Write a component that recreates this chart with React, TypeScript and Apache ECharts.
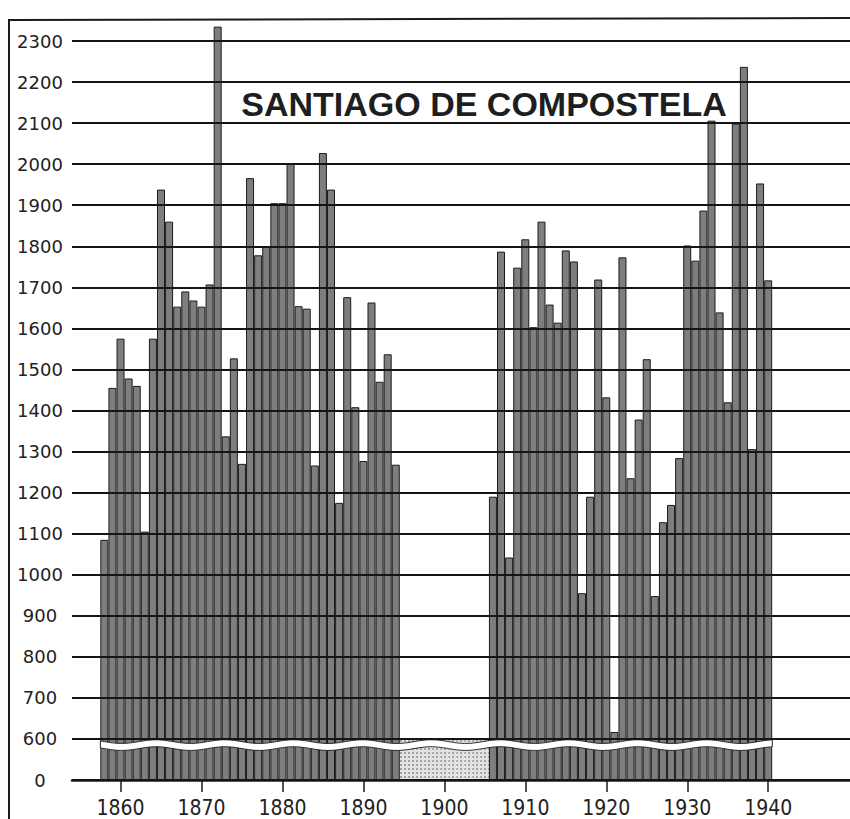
import React, { useEffect, useRef } from "react";
import * as echarts from "echarts";

// Annual rainfall, Santiago de Compostela (mm); null = no record
const years = [
  1858, 1859, 1860, 1861, 1862, 1863, 1864, 1865, 1866, 1867,
  1868, 1869, 1870, 1871, 1872, 1873, 1874, 1875, 1876, 1877,
  1878, 1879, 1880, 1881, 1882, 1883, 1884, 1885, 1886, 1887,
  1888, 1889, 1890, 1891, 1892, 1893, 1894, 1895, 1896, 1897,
  1898, 1899, 1900, 1901, 1902, 1903, 1904, 1905, 1906, 1907,
  1908, 1909, 1910, 1911, 1912, 1913, 1914, 1915, 1916, 1917,
  1918, 1919, 1920, 1921, 1922, 1923, 1924, 1925, 1926, 1927,
  1928, 1929, 1930, 1931, 1932, 1933, 1934, 1935, 1936, 1937,
  1938, 1939, 1940,
];

const rainfall: (number | null)[] = [
  1085, 1455, 1575, 1478, 1460, 1105, 1575, 1938, 1860, 1653,
  1690, 1668, 1653, 1707, 2335, 1337, 1527, 1270, 1966, 1778,
  1800, 1905, 1905, 2002, 1654, 1648, 1266, 2027, 1938, 1175,
  1676, 1408, 1277, 1663, 1470, 1537, 1268, null, null, null,
  null, null, null, null, null, null, null, null, 1190, 1787,
  1042, 1748, 1817, 1603, 1860, 1658, 1614, 1790, 1763, 955,
  1190, 1719, 1432, 617, 1773, 1235, 1378, 1525, 948, 1128,
  1170, 1284, 1802, 1765, 1887, 2106, 1639, 1420, 2099, 2237,
  1306, 1953, 1717,
];

const decadeTicks = [1860, 1870, 1880, 1890, 1900, 1910, 1920, 1930, 1940];

// broken axis: 0..600 is compressed into one 100-step
const breakOffset = 500;
const yTop = 2300;
const titleText = "SANTIAGO DE COMPOSTELA";

export default function App() {
  const ref = useRef<HTMLDivElement>(null);

  useEffect(() => {
    if (!ref.current) return;
    const chart = echarts.init(ref.current, undefined, { renderer: "svg" });

    const barData: [number, number][] = [];
    const missingData: [number, number][] = [];
    years.forEach((y, i) => {
      const v = rainfall[i];
      if (v == null) missingData.push([y, 100]);
      else barData.push([y, v - breakOffset]);
    });

    const waveRender = (params: any, api: any) => {
      const upper: number[][] = [];
      const lower: number[][] = [];
      for (let x = years[0] - 0.5; x <= years[years.length - 1] + 0.5; x += 0.25) {
        const w = 5 + 5 * Math.sin(((x - 1858) * 2 * Math.PI) / 8.5);
        const top = 98 - 0.9 * w;
        upper.push(api.coord([x, top]));
        lower.unshift(api.coord([x, top - 17]));
      }
      return {
        type: "polygon",
        shape: { points: upper.concat(lower) },
        style: { fill: "#ffffff", stroke: "#2a2a2a", lineWidth: 1 },
      };
    };

    chart.setOption({
      animation: false,
      backgroundColor: "#ffffff",
      grid: {
        left: 72,
        right: 0,
        top: 41,
        bottom: 39,
        containLabel: false,
        outerBoundsMode: "none",
      },
      xAxis: {
        type: "value",
        min: 1854,
        max: 1950.1,
        splitLine: { show: false },
        axisLine: { show: true, onZero: false, lineStyle: { color: "#1a1a1a", width: 2.5 } },
        axisTick: {
          show: true,
          customValues: decadeTicks,
          length: 12,
          lineStyle: { color: "#1a1a1a", width: 1.5 },
        },
        axisLabel: {
          customValues: decadeTicks,
          formatter: (v: number) => String(v),
          margin: 17,
          fontSize: 21,
          fontFamily: "'Liberation Sans Narrow', 'DejaVu Sans Condensed', 'Liberation Sans', sans-serif",
          color: "#222",
        },
      },
      yAxis: {
        type: "value",
        min: 0,
        max: yTop - breakOffset,
        interval: 100,
        z: 6,
        axisLine: { show: false },
        axisTick: { show: false },
        splitLine: { show: true, lineStyle: { color: "#151515", width: 2 } },
        axisLabel: {
          formatter: (v: number) => (v === 0 ? "0" : String(v + breakOffset)),
          align: "center",
          margin: 32,
          padding: [0, 0, 8, 0],
          fontSize: 18,
          fontFamily: "'DejaVu Sans', sans-serif",
          color: "#222",
        },
      },
      series: [
        {
          name: "Precipitación",
          type: "bar",
          data: barData,
          barWidth: 8,
          clip: false,
          itemStyle: { color: "#7e7e7e", borderColor: "#1c1c1c", borderWidth: 1 },
          z: 2,
        },
        {
          name: "Sin datos",
          type: "bar",
          data: missingData,
          barWidth: 8.1,
          barGap: "-100%",
          itemStyle: {
            color: "#e2e2e2",
            borderWidth: 0,
            decal: {
              symbol: "rect",
              symbolSize: 0.8,
              color: "#777",
              dashArrayX: [1.5, 1.5],
              dashArrayY: [1.5, 2],
            },
          },
          z: 1,
        },
        {
          type: "custom",
          data: [[0]],
          renderItem: waveRender,
          silent: true,
          z: 4,
        },
      ],
      graphic: [
        {
          type: "text",
          x: 484,
          y: 104,
          z: 10,
          style: {
            text: titleText,
            fontSize: 34,
            fontWeight: "bold",
            fontFamily: "'Liberation Sans', Arial, sans-serif",
            fill: "#1e1e1e",
            textAlign: "center",
            textVerticalAlign: "middle",
          },
        },
        {
          type: "line",
          shape: { x1: 9, y1: 20, x2: 850, y2: 18 },
          style: { stroke: "#1a1a1a", lineWidth: 2 },
        },
        {
          type: "line",
          shape: { x1: 9, y1: 19, x2: 9, y2: 819 },
          style: { stroke: "#1a1a1a", lineWidth: 2 },
        },
      ],
    });

    return () => chart.dispose();
  }, []);

  return (
    <div
      ref={ref}
      style={{ position: "fixed", left: 0, top: 0, width: 850, height: 819 }}
    />
  );
}
